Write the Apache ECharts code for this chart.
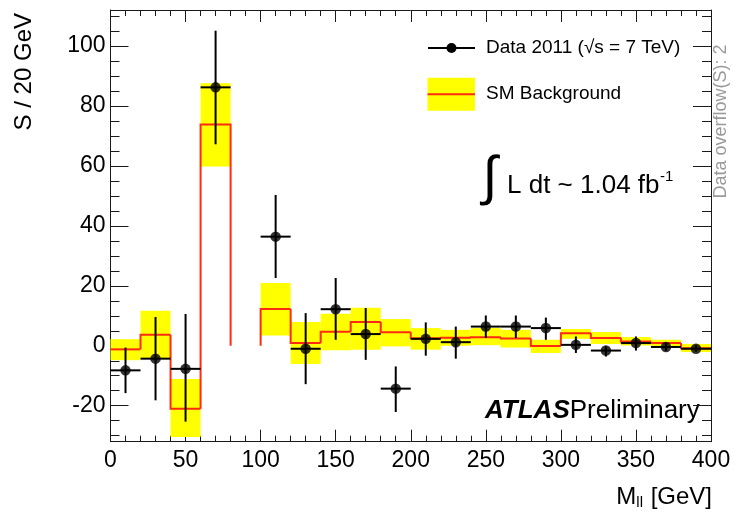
<!DOCTYPE html>
<html>
<head>
<meta charset="utf-8">
<script src="https://cdn.jsdelivr.net/npm/echarts@6/dist/echarts.min.js"></script>
<style>
  html, body { margin: 0; padding: 0; background: #fff; }
  #chart { width: 735px; height: 518px; }
</style>
</head>
<body>
<div id="chart"></div>
<script>
// Dilepton invariant mass, 20 GeV bins from 0 to 400 GeV
const binEdges = [0, 20, 40, 60, 80, 100, 120, 140, 160, 180, 200,
                  220, 240, 260, 280, 300, 320, 340, 360, 380, 400];
const xTicks = [0, 50, 100, 150, 200, 250, 300, 350, 400];

// Observed data (null = bin not shown)
const dataVal  = [-8.2, -4.3, -7.7, 86.2, null, 36.4, -1.0, 12.2, 3.9, -14.3,
                  2.3, 1.2, 6.4, 6.4, 5.9, 0.3, -1.6, 0.9, -0.4, -1.0];
const dataLow  = [-15.8, -18.2, -25.3, 67.2, null, 22.6, -12.8, 2.0, -4.7, -22.1,
                  -3.3, -4.3, 2.6, 2.6, 2.0, -2.4, -3.6, -1.6, -1.7, -2.0];
const dataHigh = [-0.6, 9.6, 10.6, 105.1, null, 50.3, 10.9, 22.6, 12.6, -6.9,
                  7.8, 6.4, 10.1, 10.1, 9.4, 3.1, -0.2, 3.1, 0.9, 0.2];

// SM background expectation and its uncertainty band
const bkgVal  = [-1.2, 3.7, -21.0, 73.8, null, 12.3, 0.9, 4.7, 7.9, 4.5,
                 2.5, 2.7, 2.8, 2.4, -0.1, 4.2, 2.6, 1.4, 0.9, -0.8];
const bkgLow  = [-4.8, -4.3, -30.4, 59.8, null, 3.4, -6.1, -1.5, -1.3, -0.2,
                 -1.3, 0.0, 0.2, -0.6, -2.4, 2.3, 0.6, 0.1, -0.2, -2.1];
const bkgHigh = [2.2, 11.7, -11.1, 87.6, null, 20.9, 7.9, 10.7, 12.7, 8.9,
                 5.9, 5.3, 5.9, 5.3, 2.0, 5.6, 4.6, 2.9, 2.0, 0.6];

const FONT = '"Liberation Sans", Arial, Helvetica, sans-serif';
const AX = '#1a1a1a';

const bandData = [], stepData = [], errData = [], pointData = [];
for (let i = 0; i < bkgVal.length; i++) {
  const lo = binEdges[i], hi = binEdges[i + 1];
  if (bkgVal[i] !== null) {
    bandData.push([lo, hi, bkgLow[i], bkgHigh[i]]);
    const prev = i === 0 ? bkgVal[i] : (bkgVal[i - 1] === null ? 0 : bkgVal[i - 1]);
    const next = (i + 1 < bkgVal.length && bkgVal[i + 1] === null) ? 0 : bkgVal[i];
    stepData.push([lo, hi, bkgVal[i], prev, next]);
  }
  if (dataVal[i] !== null) {
    const c = (lo + hi) / 2;
    errData.push([c, dataVal[i], dataLow[i], dataHigh[i], lo, hi]);
    pointData.push([c, dataVal[i]]);
  }
}

const xAxisBase = {
  type: 'value', min: 0, max: 400, interval: 50,
  axisLine: { show: true, onZero: false, lineStyle: { color: AX, width: 1 } },
  axisTick: { show: true, inside: true, length: 12, lineStyle: { color: AX, width: 1 } },
  minorTick: { show: true, splitNumber: 5, length: 6, lineStyle: { color: AX, width: 1 } },
  splitLine: { show: false }
};
const yAxisBase = {
  type: 'value', min: -32, max: 112, splitNumber: 7,
  axisLine: { show: true, onZero: false, lineStyle: { color: AX, width: 1 } },
  axisTick: { show: true, inside: true, length: 18, lineStyle: { color: AX, width: 1 } },
  minorTick: { show: true, splitNumber: 4, length: 9, lineStyle: { color: AX, width: 1 } },
  splitLine: { show: false }
};

const option = {
  animation: false,
  backgroundColor: '#ffffff',
  grid: { left: 110.5, top: 10, width: 600.5, height: 431.7, containLabel: false },
  xAxis: [
    Object.assign({}, xAxisBase, {
      position: 'bottom',
      axisLabel: { show: true, margin: 7, color: '#000', fontSize: 23, fontFamily: FONT,
                   formatter: v => xTicks.includes(v) ? String(v) : '' }
    }),
    Object.assign({}, xAxisBase, { position: 'top', axisLabel: { show: false } })
  ],
  yAxis: [
    Object.assign({}, yAxisBase, {
      position: 'left',
      axisLabel: { show: true, margin: 5, color: '#000', fontSize: 23, fontFamily: FONT,
                   showMinLabel: false, showMaxLabel: false,
                   formatter: v => (Math.round(v) % 20 === 0 ? String(v) : '') }
    }),
    Object.assign({}, yAxisBase, { position: 'right', axisLabel: { show: false } })
  ],
  series: [
    {
      // uncertainty band on the background
      type: 'custom', name: 'band', xAxisIndex: 0, yAxisIndex: 0, z: 1,
      data: bandData,
      renderItem: (params, api) => {
        const p1 = api.coord([api.value(0), api.value(3)]);
        const p2 = api.coord([api.value(1), api.value(2)]);
        return { type: 'rect',
                 shape: { x: p1[0], y: p1[1], width: p2[0] - p1[0], height: p2[1] - p1[1] },
                 style: { fill: '#ffff00' } };
      }
    },
    {
      // background histogram outline
      type: 'custom', name: 'bkg', xAxisIndex: 0, yAxisIndex: 0, z: 2,
      data: stepData,
      renderItem: (params, api) => {
        const lo = api.value(0), hi = api.value(1), v = api.value(2);
        const prev = api.value(3), next = api.value(4);
        const pts = [api.coord([lo, prev]), api.coord([lo, v]), api.coord([hi, v]), api.coord([hi, next])];
        return { type: 'polyline', shape: { points: pts },
                 style: { stroke: '#ff2a10', lineWidth: 2, fill: null } };
      }
    },
    {
      // data error bars
      type: 'custom', name: 'err', xAxisIndex: 0, yAxisIndex: 0, z: 3,
      data: errData,
      renderItem: (params, api) => {
        const c = api.value(0), v = api.value(1);
        const a = api.coord([c, api.value(2)]), b = api.coord([c, api.value(3)]);
        const l = api.coord([api.value(4), v]), r = api.coord([api.value(5), v]);
        return { type: 'group', children: [
          { type: 'line', shape: { x1: a[0], y1: a[1], x2: b[0], y2: b[1] },
            style: { stroke: '#000', lineWidth: 2 } },
          { type: 'line', shape: { x1: l[0], y1: l[1], x2: r[0], y2: r[1] },
            style: { stroke: '#000', lineWidth: 2 } }
        ] };
      }
    },
    {
      type: 'scatter', name: 'Data 2011', xAxisIndex: 0, yAxisIndex: 0, z: 4,
      data: pointData, symbol: 'circle', symbolSize: 10.5,
      itemStyle: { color: '#000' }
    }
  ],
  graphic: [
    // y axis title
    { type: 'text', x: 24, y: 13, rotation: Math.PI / 2,
      style: { text: 'S / 20 GeV', fill: '#000', font: '24px ' + FONT,
               textAlign: 'right', textVerticalAlign: 'middle' } },
    // x axis title
    { type: 'text', x: 712, y: 497,
      style: { text: '{m|M}{s|ll}{m| [GeV]}', textAlign: 'right', textVerticalAlign: 'middle',
               rich: { m: { fontSize: 24, fontFamily: FONT, fill: '#000' },
                       s: { fontSize: 15, fontFamily: FONT, fill: '#000', padding: [12, 1, 0, 0] } } } },
    // legend: data
    { type: 'line', shape: { x1: 428, y1: 48, x2: 475, y2: 48 }, style: { stroke: '#000', lineWidth: 2 } },
    { type: 'circle', shape: { cx: 451.5, cy: 48, r: 5 }, style: { fill: '#000' } },
    { type: 'text', x: 486, y: 48,
      style: { text: 'Data 2011 (√s = 7 TeV)', fill: '#000', font: '19px ' + FONT,
               textAlign: 'left', textVerticalAlign: 'middle' } },
    // legend: background
    { type: 'rect', shape: { x: 427.5, y: 77.7, width: 47.5, height: 33 }, style: { fill: '#ffff00' } },
    { type: 'line', shape: { x1: 427.5, y1: 94.3, x2: 475, y2: 94.3 }, style: { stroke: '#ff2a10', lineWidth: 2 } },
    { type: 'text', x: 486, y: 94,
      style: { text: 'SM Background', fill: '#000', font: '19px ' + FONT,
               textAlign: 'left', textVerticalAlign: 'middle' } },
    // integrated luminosity
    { type: 'text', x: 490, y: 179,
      style: { text: '∫', fill: '#000', font: '54px ' + FONT,
               textAlign: 'center', textVerticalAlign: 'middle' } },
    { type: 'text', x: 507, y: 186,
      style: { text: 'L dt ~ 1.04 fb', fill: '#000', font: '26px ' + FONT,
               textAlign: 'left', textVerticalAlign: 'middle' } },
    { type: 'text', x: 660, y: 177,
      style: { text: '-1', fill: '#000', font: '15px ' + FONT,
               textAlign: 'left', textVerticalAlign: 'middle' } },
    // overflow note
    { type: 'text', x: 721, y: 121.5, rotation: Math.PI / 2,
      style: { text: 'Data overflow(S): 2', fill: '#9a9a9a', font: '18px ' + FONT,
               textAlign: 'center', textVerticalAlign: 'middle' } },
    // experiment label
    { type: 'text', x: 485, y: 411,
      style: { text: '{a|ATLAS}{b|Preliminary}', textAlign: 'left', textVerticalAlign: 'middle',
               rich: { a: { fontSize: 26, fontFamily: FONT, fontWeight: 'bold', fontStyle: 'italic', fill: '#000' },
                       b: { fontSize: 26, fontFamily: FONT, fill: '#000' } } } }
  ]
};

const chart = echarts.init(document.getElementById('chart'), null, { renderer: 'canvas' });
chart.setOption(option);
</script>
</body>
</html>
